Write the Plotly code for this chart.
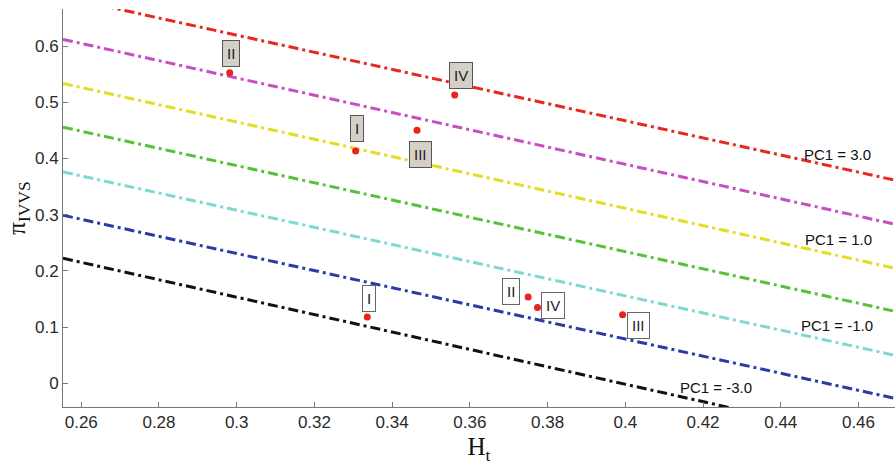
import plotly.graph_objects as go

# PC1 iso-lines: value, colour, y at the left (x=0.2553) and right (x=0.4694) axis limits
x_ends = [0.2553, 0.4694]
pc1_values = [3.0, 2.0, 1.0, 0.0, -1.0, -2.0, -3.0]
line_colors = ["#e8281e", "#c650c2", "#e6dc22", "#55c238", "#7fd9d1", "#2b3aa6", "#111111"]
y_left = [0.6876, 0.612, 0.5336, 0.4558, 0.3762, 0.2991, 0.2226]
y_right = [0.3614, 0.2831, 0.2048, 0.1282, 0.0499, -0.0267, -0.109]

# Sample points (H_t, pi_IVVS) with their group labels
pt_x = [0.2982, 0.3306, 0.3464, 0.3561, 0.3336, 0.3750, 0.3774, 0.3993]
pt_y = [0.5525, 0.4136, 0.4505, 0.5128, 0.118, 0.1537, 0.1348, 0.1223]
pt_label = ["II", "I", "III", "IV", "I", "II", "IV", "III"]
pt_shaded = [True, True, True, True, False, False, False, False]
# label offsets from the point, in pixels
lab_dx = [1, 1, 3, 6, 2, -17, 16, 16]
lab_dy = [19, 22, -24, 20, 19, 5, 2, -11]

# Captions for selected iso-lines (position in data units)
cap_text = ["PC1 = 3.0", "PC1 = 1.0", "PC1 = -1.0", "PC1 = -3.0"]
cap_x = [0.4545, 0.4548, 0.4545, 0.4233]
cap_y = [0.4077, 0.2564, 0.1033, -0.0071]

fig = go.Figure()

for v, c, yl, yr in zip(pc1_values, line_colors, y_left, y_right):
    fig.add_trace(go.Scatter(
        x=x_ends, y=[yl, yr], mode="lines", name=f"PC1 = {v}",
        line=dict(color=c, width=3, dash="10px,4px,3px,4px"),
        hoverinfo="skip"))

fig.add_trace(go.Scatter(
    x=pt_x, y=pt_y, mode="markers",
    marker=dict(color="#e8241c", size=7), name="samples"))

for x, y, t, s, dx, dy in zip(pt_x, pt_y, pt_label, pt_shaded, lab_dx, lab_dy):
    fig.add_annotation(
        x=x, y=y, text=t, showarrow=False, xshift=dx, yshift=dy,
        font=dict(family="Arial, Liberation Sans", size=15, color="#1a1a1a"),
        bgcolor="#d4d0c8" if s else "white",
        bordercolor="#555" if s else "#666", borderwidth=1, borderpad=4)

for t, x, y in zip(cap_text, cap_x, cap_y):
    fig.add_annotation(
        x=x, y=y, text=t, showarrow=False,
        font=dict(family="Arial, Liberation Sans", size=15, color="#111"))

axis_common = dict(
    showgrid=False, zeroline=False, showline=True, linecolor="#777",
    linewidth=1, ticks="inside", ticklen=5, tickcolor="#777",
    tickfont=dict(family="Arial, Liberation Sans", size=17, color="#2a2a2a"))

fig.update_layout(
    width=895, height=468,
    margin=dict(l=63, r=0, t=9, b=61),
    paper_bgcolor="white", plot_bgcolor="white",
    showlegend=False,
    xaxis=dict(range=x_ends, tickvals=[0.26, 0.28, 0.3, 0.32, 0.34, 0.36, 0.38, 0.4, 0.42, 0.44, 0.46],
               ticktext=["0.26", "0.28", "0.3", "0.32", "0.34", "0.36", "0.38", "0.4", "0.42", "0.44", "0.46"],
               title=dict(text="H<sub>t</sub>", standoff=6,
                          font=dict(family="Liberation Serif, DejaVu Serif", size=25, color="#111")),
               **axis_common),
    yaxis=dict(range=[-0.042, 0.666], tickvals=[0, 0.1, 0.2, 0.3, 0.4, 0.5, 0.6],
               ticktext=["0", "0.1", "0.2", "0.3", "0.4", "0.5", "0.6"],
               title=dict(text="π<sub>IVVS</sub>", standoff=2,
                          font=dict(family="Liberation Serif, DejaVu Serif", size=25, color="#111")),
               **axis_common),
)

fig.write_html("out.html")
